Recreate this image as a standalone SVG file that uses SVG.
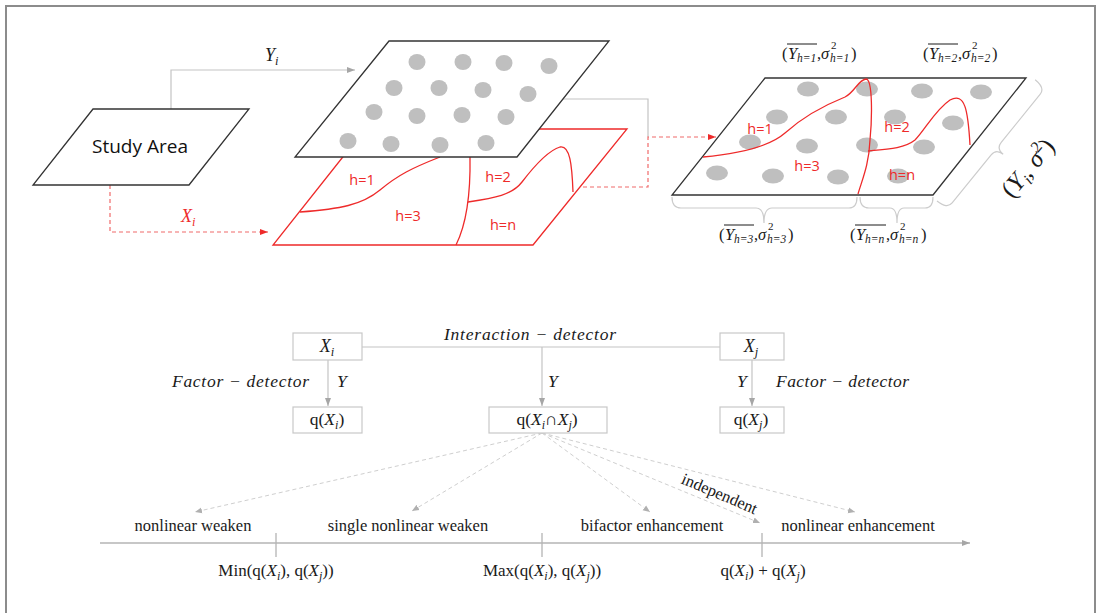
<svg xmlns="http://www.w3.org/2000/svg" width="1099" height="613" viewBox="0 0 1099 613">
<style>
.m{font-family:"Liberation Serif",serif;font-style:italic;fill:#1a1a1a}
.r{font-family:"Liberation Serif",serif;fill:#1a1a1a}
.s{font-family:"Open Sans","Liberation Sans",sans-serif}
.red{fill:#ee2a2a}
.dot{fill:#bfbfbf}
.gl{stroke:#c4c4c4;stroke-width:1.2;fill:none}
.rl{stroke:#ee2a2a;stroke-width:1.3;fill:none}
.rd{stroke:#f06a6a;stroke-width:1.2;fill:none;stroke-dasharray:4 3}
.bx{fill:#fff;stroke:#c8c8c8;stroke-width:1.2}
.dl{stroke:#cfcfcf;stroke-width:1;fill:none;stroke-dasharray:4 3}
.br{stroke:#cccccc;stroke-width:1.2;fill:none}
</style>
<defs>
<marker id="ag" markerWidth="9" markerHeight="8" refX="8" refY="4" orient="auto" markerUnits="userSpaceOnUse"><path d="M0,1 L8,4 L0,7 z" fill="#a6a6a6"/></marker>
<marker id="ar" markerWidth="9" markerHeight="8" refX="8" refY="4" orient="auto" markerUnits="userSpaceOnUse"><path d="M0,1 L8,4 L0,7 z" fill="#ee2a2a"/></marker>
<marker id="ad" markerWidth="8" markerHeight="7" refX="7" refY="3.5" orient="auto" markerUnits="userSpaceOnUse"><path d="M0,0.5 L7,3.5 L0,6.5 z" fill="#b0b0b0"/></marker>
</defs>
<rect width="1099" height="613" fill="#fff"/>
<path d="M6,613 L6,6 L1095,6 L1095,613" fill="none" stroke="#8c8c8c" stroke-width="2"/>

<g id="connectors">
<path class="gl" d="M171,109 L171,70 L355,70" marker-end="url(#ag)"/>
<text class="m" x="265" y="61" font-size="18">Y<tspan font-size="12.5" dy="4">i</tspan></text>
<path class="rd" d="M110,185 L110,232 L268,232" marker-end="url(#ar)"/>
<text class="m" x="181" y="222" font-size="18" style="fill:#ee2a2a">X<tspan font-size="12.5" dy="4">i</tspan></text>
<path class="gl" d="M563,99 L648,99 L648,137"/>
<path class="rd" d="M583,187 L648,187 L648,137 L716,137" marker-end="url(#ar)"/>
<path class="gl" d="M362,347 L720,347"/>
<path class="gl" d="M328,360 L328,406" marker-end="url(#ag)"/>
<path class="gl" d="M542,347 L542,406" marker-end="url(#ag)"/>
<path class="gl" d="M752,360 L752,406" marker-end="url(#ag)"/>
<path class="dl" d="M542,433 L195,512" marker-end="url(#ad)"/>
<path class="dl" d="M542,433 L412,511" marker-end="url(#ad)"/>
<path class="dl" d="M542,433 L650,512" marker-end="url(#ad)"/>
<path class="dl" d="M542,433 L760,523" marker-end="url(#ad)"/>
<path class="dl" d="M542,433 L855,512" marker-end="url(#ad)"/>
<path d="M100,543 L970,543" stroke="#b4b4b4" stroke-width="1.3" fill="none" marker-end="url(#ag)"/>
<path d="M276,533 L276,557 M542,533 L542,557 M762,533 L762,557" stroke="#b4b4b4" stroke-width="1.3"/>
</g>

<g id="study-area">
<path d="M93,109 L249,109 L189,185 L33,185 Z" fill="#fff" stroke="#333" stroke-width="1.3"/>
<text class="s" x="140" y="153" font-size="19" text-anchor="middle" fill="#111" textLength="96" lengthAdjust="spacingAndGlyphs">Study Area</text>
</g>

<g id="red-plane">
<path class="rl" d="M365,129 L627,129 L533,245 L273,245 Z"/>
<path class="rl" d="M300,212 C340,209 362,205 380,190 S412,168 440,157"/>
<path class="rl" d="M470,157 Q471,215 456,245"/>
<path class="rl" d="M468,202 C495,198 512,195 522,182 C535,165 550,150 560,147 C570,145 572,165 573,192"/>
<text class="s red" x="362" y="185" font-size="14.5" text-anchor="middle">h=1</text>
<text class="s red" x="498" y="182" font-size="14.5" text-anchor="middle">h=2</text>
<text class="s red" x="408" y="221" font-size="14.5" text-anchor="middle">h=3</text>
<text class="s red" x="503" y="230" font-size="14.5" text-anchor="middle">h=n</text>
</g>

<g id="top-plane">
<path d="M389,41 L609,41 L517,157 L295,157 Z" fill="#fff" stroke="#333" stroke-width="1.3"/>
<ellipse class="dot" cx="417" cy="62" rx="8.5" ry="8"/>
<ellipse class="dot" cx="463" cy="62" rx="8.5" ry="8"/>
<ellipse class="dot" cx="504" cy="63" rx="8.5" ry="8"/>
<ellipse class="dot" cx="549" cy="66" rx="8.5" ry="8"/>
<ellipse class="dot" cx="394" cy="88" rx="8.5" ry="8"/>
<ellipse class="dot" cx="439" cy="88" rx="8.5" ry="8"/>
<ellipse class="dot" cx="483" cy="90" rx="8.5" ry="8"/>
<ellipse class="dot" cx="528" cy="94" rx="8.5" ry="8"/>
<ellipse class="dot" cx="374" cy="112" rx="8.5" ry="8"/>
<ellipse class="dot" cx="417" cy="116" rx="8.5" ry="8"/>
<ellipse class="dot" cx="462" cy="115" rx="8.5" ry="8"/>
<ellipse class="dot" cx="506" cy="117" rx="8.5" ry="8"/>
<ellipse class="dot" cx="348" cy="141" rx="8.5" ry="8"/>
<ellipse class="dot" cx="391" cy="144" rx="8.5" ry="8"/>
<ellipse class="dot" cx="440" cy="145" rx="8.5" ry="8"/>
<ellipse class="dot" cx="486" cy="143" rx="8.5" ry="8"/>
</g>

<g id="result-plane">
<path d="M765,78 L1026,78 L933,195 L672,195 Z" fill="#fff" stroke="#333" stroke-width="1.3"/>
<ellipse class="dot" cx="808" cy="89" rx="11" ry="7.5"/>
<ellipse class="dot" cx="867" cy="89" rx="11" ry="7.5"/>
<ellipse class="dot" cx="922" cy="91" rx="11" ry="7.5"/>
<ellipse class="dot" cx="981" cy="92" rx="11" ry="7.5"/>
<ellipse class="dot" cx="777" cy="117" rx="11" ry="7.5"/>
<ellipse class="dot" cx="836" cy="117" rx="11" ry="7.5"/>
<ellipse class="dot" cx="895" cy="117" rx="11" ry="7.5"/>
<ellipse class="dot" cx="953" cy="123" rx="11" ry="7.5"/>
<ellipse class="dot" cx="750" cy="142" rx="11" ry="7.5"/>
<ellipse class="dot" cx="807" cy="146" rx="11" ry="7.5"/>
<ellipse class="dot" cx="867" cy="145" rx="11" ry="7.5"/>
<ellipse class="dot" cx="924" cy="147" rx="11" ry="7.5"/>
<ellipse class="dot" cx="717" cy="173" rx="11" ry="7.5"/>
<ellipse class="dot" cx="773" cy="176" rx="11" ry="7.5"/>
<ellipse class="dot" cx="838" cy="177" rx="11" ry="7.5"/>
<ellipse class="dot" cx="898" cy="176" rx="11" ry="7.5"/>
<path class="rl" d="M703,157 C735,154 768,148 785,133 C805,115 825,105 845,97 C855,92 858,80 866,79 C873,79 872,120 870,140 C869,165 862,180 858,194"/>
<path class="rl" d="M868,151 C890,149 905,148 915,140 C925,130 935,110 950,100 C965,92 968,110 970,145"/>
<text class="s red" x="760" y="134" font-size="14.5" text-anchor="middle">h=1</text>
<text class="s red" x="897" y="132" font-size="14.5" text-anchor="middle">h=2</text>
<text class="s red" x="807" y="171" font-size="14.5" text-anchor="middle">h=3</text>
<text class="s red" x="902" y="180" font-size="14.5" text-anchor="middle">h=n</text>
</g>

<g id="braces">
<path class="br" d="M672,197 Q672,208 681,208 L756,208 Q764,208 764,223 Q764,208 772,208 L849,208 Q857,208 857,197"/>
<path class="br" d="M860,197 Q860,208 869,208 L890,208 Q897,208 897,223 Q897,208 904,208 L925,208 Q933,208 933,197"/>
<path class="br" transform="translate(937,201) rotate(-51)" d="M0,0 Q0,13 8,13 L70,13 Q78,13 78,22 Q78,13 86,13 L148,13 Q156,13 156,0"/>
</g>

<g id="label-h1" transform="translate(782,59)">
<text class="r" x="0" y="0" font-size="16.5">(</text>
<text class="m" x="6" y="0" font-size="16.5">Y</text>
<text class="m" x="15" y="3" font-size="11.5">h=1</text>
<line x1="5" y1="-15" x2="35" y2="-15" stroke="#1a1a1a" stroke-width="1"/>
<text class="r" x="35" y="0" font-size="16.5">,</text>
<text class="m" x="39" y="0" font-size="16.5">σ</text>
<text class="r" x="49" y="-10" font-size="11">2</text>
<text class="m" x="48" y="3" font-size="11.5">h=1</text>
<text class="r" x="69" y="0" font-size="16.5">)</text>
</g>
<g id="label-h2" transform="translate(923,59)">
<text class="r" x="0" y="0" font-size="16.5">(</text>
<text class="m" x="6" y="0" font-size="16.5">Y</text>
<text class="m" x="15" y="3" font-size="11.5">h=2</text>
<line x1="5" y1="-15" x2="35" y2="-15" stroke="#1a1a1a" stroke-width="1"/>
<text class="r" x="35" y="0" font-size="16.5">,</text>
<text class="m" x="39" y="0" font-size="16.5">σ</text>
<text class="r" x="49" y="-10" font-size="11">2</text>
<text class="m" x="48" y="3" font-size="11.5">h=2</text>
<text class="r" x="69" y="0" font-size="16.5">)</text>
</g>
<g id="label-h3" transform="translate(719,240)">
<text class="r" x="0" y="0" font-size="16.5">(</text>
<text class="m" x="6" y="0" font-size="16.5">Y</text>
<text class="m" x="15" y="3" font-size="11.5">h=3</text>
<line x1="5" y1="-15" x2="35" y2="-15" stroke="#1a1a1a" stroke-width="1"/>
<text class="r" x="35" y="0" font-size="16.5">,</text>
<text class="m" x="39" y="0" font-size="16.5">σ</text>
<text class="r" x="49" y="-10" font-size="11">2</text>
<text class="m" x="48" y="3" font-size="11.5">h=3</text>
<text class="r" x="69" y="0" font-size="16.5">)</text>
</g>
<g id="label-hn" transform="translate(850,240)">
<text class="r" x="0" y="0" font-size="16.5">(</text>
<text class="m" x="6" y="0" font-size="16.5">Y</text>
<text class="m" x="15" y="3" font-size="11.5">h=n</text>
<line x1="5" y1="-15" x2="36" y2="-15" stroke="#1a1a1a" stroke-width="1"/>
<text class="r" x="36" y="0" font-size="16.5">,</text>
<text class="m" x="40" y="0" font-size="16.5">σ</text>
<text class="r" x="50" y="-10" font-size="11">2</text>
<text class="m" x="49" y="3" font-size="11.5">h=n</text>
<text class="r" x="71" y="0" font-size="16.5">)</text>
</g>
<g id="label-total" transform="translate(1028,168) rotate(-50)">
<text class="r" x="0" y="8" font-size="25" text-anchor="middle">(<tspan class="m">Y</tspan><tspan class="m" font-size="16" dy="5">i</tspan><tspan dy="-5">, </tspan><tspan class="m">σ</tspan><tspan font-size="16" dy="-10">2</tspan><tspan dy="10">)</tspan></text>
</g>

<g id="node-xi">
<rect class="bx" x="293" y="333" width="69" height="27"/>
<text class="m" x="327" y="352" font-size="18" text-anchor="middle">X<tspan font-size="12.5" dy="4">i</tspan></text>
</g>
<g id="node-xj">
<rect class="bx" x="720" y="333" width="64" height="27"/>
<text class="m" x="751" y="352" font-size="18" text-anchor="middle">X<tspan font-size="12.5" dy="4">j</tspan></text>
</g>
<g id="node-qxi">
<rect class="bx" x="293" y="407" width="69" height="26"/>
<text class="r" x="327" y="425" font-size="17.5" text-anchor="middle">q(<tspan class="m">X</tspan><tspan class="m" font-size="12" dy="4">i</tspan><tspan dy="-4">)</tspan></text>
</g>
<g id="node-qxixj">
<rect class="bx" x="489" y="407" width="118" height="26"/>
<text class="r" x="547" y="425" font-size="17.5" text-anchor="middle">q(<tspan class="m">X</tspan><tspan class="m" font-size="12" dy="4">i</tspan><tspan dy="-4">∩</tspan><tspan class="m">X</tspan><tspan class="m" font-size="12" dy="4">j</tspan><tspan dy="-4">)</tspan></text>
</g>
<g id="node-qxj">
<rect class="bx" x="720" y="407" width="64" height="26"/>
<text class="r" x="751" y="425" font-size="17.5" text-anchor="middle">q(<tspan class="m">X</tspan><tspan class="m" font-size="12" dy="4">j</tspan><tspan dy="-4">)</tspan></text>
</g>

<g id="labels">
<text class="m" x="530" y="340" font-size="17.5" text-anchor="middle" textLength="172" lengthAdjust="spacing">Interaction − detector</text>
<text class="m" x="172" y="387" font-size="17.5" textLength="137" lengthAdjust="spacing">Factor − detector</text>
<text class="m" x="776" y="387" font-size="17.5" textLength="133" lengthAdjust="spacing">Factor − detector</text>
<text class="m" x="337" y="387" font-size="17.5">Y</text>
<text class="m" x="548" y="387" font-size="17.5">Y</text>
<text class="m" x="737" y="387" font-size="17.5">Y</text>
<text class="r" x="719" y="499" font-size="16.5" text-anchor="middle" transform="rotate(23 719 495)">independent</text>
<text class="r" x="193" y="531" font-size="16.5" text-anchor="middle">nonlinear weaken</text>
<text class="r" x="408" y="531" font-size="16.5" text-anchor="middle">single nonlinear weaken</text>
<text class="r" x="652" y="531" font-size="16.5" text-anchor="middle">bifactor enhancement</text>
<text class="r" x="858" y="531" font-size="16.5" text-anchor="middle">nonlinear enhancement</text>
<text class="r" x="276" y="576" font-size="17" text-anchor="middle">Min(q(<tspan class="m">X</tspan><tspan class="m" font-size="12" dy="4">i</tspan><tspan dy="-4">), q(</tspan><tspan class="m">X</tspan><tspan class="m" font-size="12" dy="4">j</tspan><tspan dy="-4">))</tspan></text>
<text class="r" x="542" y="576" font-size="17" text-anchor="middle">Max(q(<tspan class="m">X</tspan><tspan class="m" font-size="12" dy="4">i</tspan><tspan dy="-4">), q(</tspan><tspan class="m">X</tspan><tspan class="m" font-size="12" dy="4">j</tspan><tspan dy="-4">))</tspan></text>
<text class="r" x="763" y="576" font-size="17" text-anchor="middle">q(<tspan class="m">X</tspan><tspan class="m" font-size="12" dy="4">i</tspan><tspan dy="-4">) + q(</tspan><tspan class="m">X</tspan><tspan class="m" font-size="12" dy="4">j</tspan><tspan dy="-4">)</tspan></text>
</g>
</svg>
